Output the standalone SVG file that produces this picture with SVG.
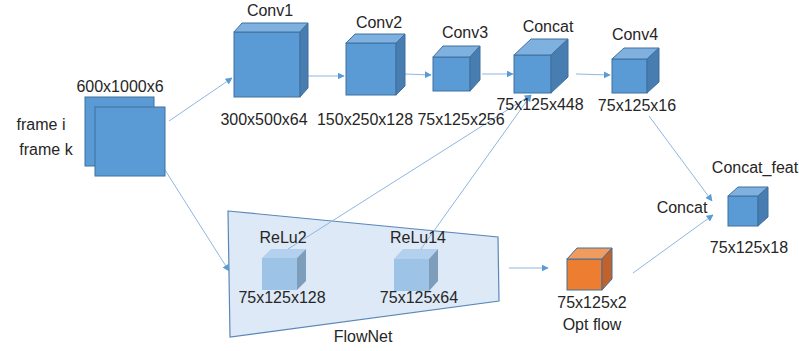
<svg xmlns="http://www.w3.org/2000/svg" width="799" height="351" viewBox="0 0 799 351">
<defs>
<style>
text{font-family:"Liberation Sans","Noto Sans",Arial,sans-serif;font-size:16px;fill:#262626;text-anchor:middle}
.fr{fill:#5b9bd5;stroke:#41719c;stroke-width:1}
.tp{fill:#7eb0e0;stroke:#41719c;stroke-width:1}
.sd{fill:#477db0;stroke:#41719c;stroke-width:1}
.lfr{fill:#9dc3e6}
.ltp{fill:#b3d1ef}
.lsd{fill:#7d9dbb}
.ofr{fill:#ed7d31;stroke:#41719c;stroke-width:1}
.otp{fill:#f19b5e;stroke:#41719c;stroke-width:1}
.osd{fill:#c0622a;stroke:#41719c;stroke-width:1}
.cn{stroke:#8db7e2;stroke-width:1;fill:none;marker-end:url(#ah)}
</style>
<marker id="ah" viewBox="0 0 10 10" refX="9" refY="5" markerWidth="7" markerHeight="7" orient="auto" markerUnits="userSpaceOnUse">
<path d="M0,0 L10,5 L0,10 z" fill="#5b9bd5"/>
</marker>
</defs>
<rect width="799" height="351" fill="#ffffff"/>

<g id="flownet">
<polygon points="228,211 498,237 499,301 230,337" fill="#dde9f6" stroke="#5b87b8" stroke-width="1.2"/>
<text x="363" y="342">FlowNet</text>
</g>

<g id="connectors">
<line class="cn" x1="169" y1="121" x2="232" y2="78"/>
<line class="cn" x1="165" y1="170" x2="229" y2="271"/>
<line class="cn" x1="307" y1="76" x2="344" y2="76"/>
<line class="cn" x1="405" y1="74" x2="431" y2="75"/>
<line class="cn" x1="482" y1="74" x2="513" y2="74"/>
<line class="cn" x1="576" y1="74" x2="610" y2="75"/>
<line class="cn" x1="288" y1="249" x2="531" y2="95"/>
<line class="cn" x1="421" y1="249" x2="531" y2="95"/>
<line class="cn" x1="649" y1="116" x2="712" y2="201"/>
<line class="cn" x1="509" y1="268" x2="548" y2="268"/>
<line class="cn" x1="633" y1="273" x2="713" y2="215"/>
</g>

<g id="input">
<rect x="85" y="97" width="69" height="69" class="fr"/>
<rect x="95" y="107" width="70" height="69" class="fr"/>
<text x="120" y="92">600x1000x6</text>
<text x="41" y="130">frame i</text>
<text x="46" y="155">frame k</text>
</g>

<g id="conv1">
<rect x="234" y="32" width="66" height="65" class="fr"/>
<polygon points="234,32 242,23 308,23 300,32" class="tp"/>
<polygon points="300,32 308,23 308,88 300,97" class="sd"/>
<text x="270" y="16">Conv1</text>
<text x="264" y="125">300x500x64</text>
</g>

<g id="conv2">
<rect x="346" y="43" width="50" height="52" class="fr"/>
<polygon points="346,43 355,34 405,34 396,43" class="tp"/>
<polygon points="396,43 405,34 405,86 396,95" class="sd"/>
<text x="379" y="28">Conv2</text>
<text x="365" y="125">150x250x128</text>
</g>

<g id="conv3">
<rect x="433" y="57" width="37" height="34" class="fr"/>
<polygon points="433,57 443,46 480,46 470,57" class="tp"/>
<polygon points="470,57 480,46 480,80 470,91" class="sd"/>
<text x="465" y="38">Conv3</text>
<text x="461" y="125">75x125x256</text>
</g>

<g id="concat">
<rect x="514" y="55" width="37" height="38" class="fr"/>
<polygon points="514,55 531,39 568,39 551,55" class="tp"/>
<polygon points="551,55 568,39 568,77 551,93" class="sd"/>
<text x="548" y="32">Concat</text>
<text x="540" y="110">75x125x448</text>
</g>

<g id="conv4">
<rect x="612" y="59" width="35" height="34" class="fr"/>
<polygon points="612,59 624,48 659,48 647,59" class="tp"/>
<polygon points="647,59 659,48 659,82 647,93" class="sd"/>
<text x="635" y="40">Conv4</text>
<text x="637" y="111">75x125x16</text>
</g>

<g id="relu2">
<rect x="262" y="258" width="35" height="32" class="lfr"/>
<polygon points="262,258 271,249 306,249 297,258" class="ltp"/>
<polygon points="297,258 306,249 306,281 297,290" class="lsd"/>
<text x="283" y="243">ReLu2</text>
<text x="282" y="303">75x125x128</text>
</g>

<g id="relu14">
<rect x="394" y="259" width="35" height="32" class="lfr"/>
<polygon points="394,259 403,249 438,249 429,259" class="ltp"/>
<polygon points="429,259 438,249 438,281 429,291" class="lsd"/>
<text x="418" y="243">ReLu14</text>
<text x="419" y="303">75x125x64</text>
</g>

<g id="optflow">
<rect x="567" y="259" width="35" height="31" class="ofr"/>
<polygon points="567,259 577,248 612,248 602,259" class="otp"/>
<polygon points="602,259 612,248 612,279 602,290" class="osd"/>
<text x="592" y="308">75x125x2</text>
<text x="592" y="330">Opt flow</text>
</g>

<g id="concat_feat">
<rect x="728" y="196" width="30" height="30" class="fr"/>
<polygon points="728,196 738,187 768,187 758,196" class="tp"/>
<polygon points="758,196 768,187 768,217 758,226" class="sd"/>
<text x="755" y="173">Concat_feat</text>
<text x="682" y="213">Concat</text>
<text x="749" y="253">75x125x18</text>
</g>
</svg>
